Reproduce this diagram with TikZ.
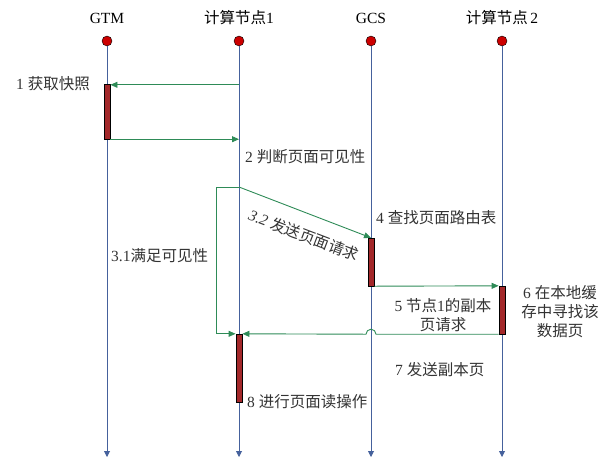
\documentclass[tikz,border=0pt]{standalone}
\usepackage{fontspec}
\setmainfont{Liberation Serif}
\newfontfamily\zh{Noto Sans CJK SC}
\usetikzlibrary{positioning,arrows.meta,calc}
\definecolor{lifeblue}{HTML}{45619C}
\definecolor{msggreen}{HTML}{2E8B57}
\definecolor{barred}{HTML}{A3282A}
\definecolor{dotred}{HTML}{CC0000}
\begin{document}
\begin{tikzpicture}[x=1pt,y=-1pt,font=\fontsize{15.5}{18}\selectfont,
  dot/.style={circle,draw=black,fill=dotred,inner sep=0pt,minimum size=10pt},
  life/.style={-{Triangle[length=6pt,width=6pt]},lifeblue,line width=0.9pt},
  bar/.style={draw=black,fill=barred,minimum width=6.5pt,inner sep=0pt},
  msg/.style={-{Triangle[length=7pt,width=6pt]},msggreen,line width=0.9pt},
  lab/.style={text=black!80,align=center,inner sep=1pt}]
\useasboundingbox (0,0) rectangle (602,459);
% lifelines
\foreach \name/\x/\txt in {gtm/107/GTM,cn1/239/{\zh 计算节点}1,gcs/371/GCS,cn2/502/{\zh 计算节点}\,2}{
  \node[dot] (\name) at (\x,41) {};
  \node (\name-t) at (\x,18) {\txt};
  \coordinate (\name-e) at (\x,457);
  \draw[life] (\name) -- (\name-e);
}
% activation bars
\node[bar,minimum height=55pt] (b1) at (107,111.5) {};
\node[bar,minimum height=48pt] (b4) at (371,262) {};
\node[bar,minimum height=48pt] (b6) at (502,310) {};
\node[bar,minimum height=68pt] (b8) at (239,368) {};
% messages
\draw[msg] (cn1 |- b1.north) ++(0,1) coordinate (m1) -- (b1.east |- m1);
\draw[msg] (b1.south east) -- (cn1 |- b1.south);
\coordinate (s3) at (239,187);
\draw[msg] (s3) -- (b4.north);
\draw[msg] (s3) -- ++(-23,0) |- (b8.north west);
\draw[msg] (b4.south east) -- (b6.north west);
\draw[msg] (b6.south west) -- ($(gcs |- b6.south)+(5,0)$) arc (0:-180:5) -- (b8.north east);
% labels
\node[lab,anchor=east] (l1) at (91,84) {1 {\zh 获取快照}};
\node[lab,anchor=west] (l2) at (244,157) {2 {\zh 判断页面可见性}};
\node[lab,anchor=west] (l31) at (110,256) {3.1{\zh 满足可见性}};
\node[lab,rotate=-21] (l32) at (304,235) {\textit{3.2} {\zh 发送页面请求}};
\node[lab,anchor=west] (l4) at (375,218) {4 {\zh 查找页面路由表}};
\node[lab,font=\fontsize{15.5}{19}\selectfont] (l5) at (443,315) {5 {\zh 节点}1{\zh 的副本}\\{\zh 页请求}};
\node[lab,font=\fontsize{15.5}{19}\selectfont] (l6) at (560,312) {6 {\zh 在本地缓}\\{\zh 存中寻找该}\\{\zh 数据页}};
\node[lab,anchor=west] (l7) at (394,370) {7 {\zh 发送副本页}};
\node[lab,anchor=west] (l8) at (246,402) {8 {\zh 进行页面读操作}};
\end{tikzpicture}
\end{document}
